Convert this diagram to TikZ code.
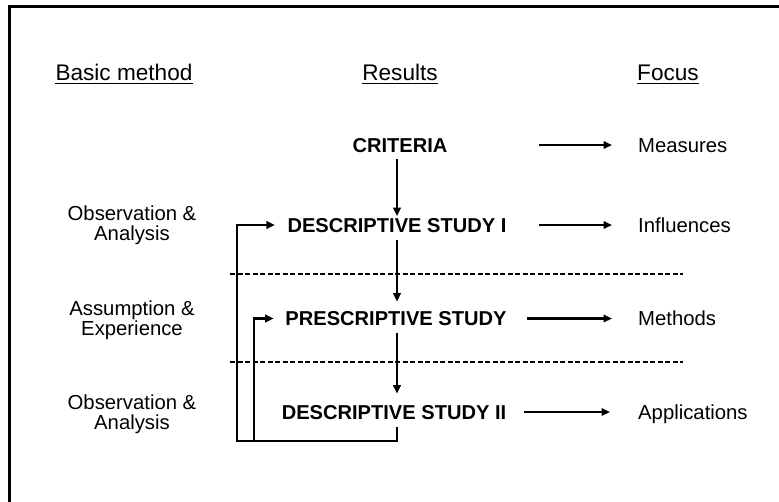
\documentclass[tikz,border=0pt]{standalone}
\usepackage{fontspec}
\setmainfont{Liberation Sans}
\usetikzlibrary{arrows.meta}
\begin{document}
\begin{tikzpicture}[x=1pt,y=-1pt,
  hdr/.style={font=\fontsize{22.6}{26}\selectfont, anchor=base, inner sep=0pt, text depth=0pt},
  ulin/.style={line width=1.4pt},
  res/.style={font=\fontsize{20.1}{24}\selectfont\bfseries, inner sep=0pt, text height=14.4pt, text depth=0pt},
  foc/.style={font=\fontsize{20.3}{24}\selectfont, inner sep=0pt, text height=14.5pt, text depth=0pt, anchor=west},
  basis/.style={font=\fontsize{20.3}{20}\selectfont, align=center, inner sep=0pt},
  tip/.style={-{Triangle[length=8.5pt,width=7.5pt]}},
  arr/.style={line width=2.3pt, tip},
  fb/.style={line width=2.8pt, line join=miter, tip},
  sep/.style={line width=1.2pt, dash pattern=on 5pt off 2.5pt}]
\useasboundingbox (0,0) rectangle (779,501);

% outer frame (left and top edges)
\draw[line width=3pt] (9,520) -- (9,6) -- (800,6);

% column headers
\node[hdr] (hbasic) at (124,80) {Basic method};
\node[hdr] (hres) at (400,80) {Results};
\node[hdr] (hfoc) at (668,80) {Focus};
\foreach \h in {hbasic,hres,hfoc}
  \draw[ulin] ([yshift=-3pt]\h.south west) -- ([yshift=-3pt]\h.south east);

% results column
\node[res] (crit) at (400,145) {CRITERIA};
\node[res] (ds1) at (397,225) {DESCRIPTIVE STUDY I};
\node[res] (ps) at (396,318.5) {PRESCRIPTIVE STUDY};
\node[res] (ds2) at (394,412) {DESCRIPTIVE STUDY II};

% focus column
\node[foc] (meas) at (638,145) {Measures};
\node[foc] (infl) at (638,225) {Influences};
\node[foc] (meth) at (638,318.5) {Methods};
\node[foc] (appl) at (638,412) {Applications};

% basic method column
\node[basis] (b1) at (132,225) {Observation \&\\Analysis};
\node[basis] (b2) at (132,320.5) {Assumption \&\\Experience};
\node[basis] (b3) at (132,414) {Observation \&\\Analysis};

% separators between the stages
\draw[sep] (230,274) -- (683,274);
\draw[sep] (230,362) -- (683,362);

% main flow, all on the same vertical
\coordinate (axis) at (397,0);
\draw[arr, shorten <=7pt, shorten >=1.5pt] (axis |- crit.south) -- (axis |- ds1.north);
\draw[arr, shorten <=8pt, shorten >=9.5pt] (axis |- ds1.south) -- (axis |- ps.north);
\draw[arr, shorten <=7pt, shorten >=11pt] (axis |- ps.south) -- (axis |- ds2.north);

% focus arrows
\coordinate (m0) at (539,145);
\coordinate (i0) at (539,225);
\draw[arr, shorten >=26pt] (m0) -- (meas.west);
\draw[arr, shorten >=26pt] (i0) -- (infl.west);
\draw[arr, shorten <=20pt, shorten >=26pt] (ps.east) -- (meth.west);
\draw[arr, shorten <=18pt, shorten >=28pt] (ds2.east) -- (appl.west);

% feedback loops
\coordinate (fbo) at (237,441);
\coordinate (fbi) at (254,441);
\draw[fb, shorten >=12.5pt] ([yshift=-8pt]axis |- ds2.south) -- (axis |- fbo) -- (fbo) |- (ds1.west);
\draw[fb, shorten >=11.5pt] (fbi) |- (ps.west);
\end{tikzpicture}
\end{document}
